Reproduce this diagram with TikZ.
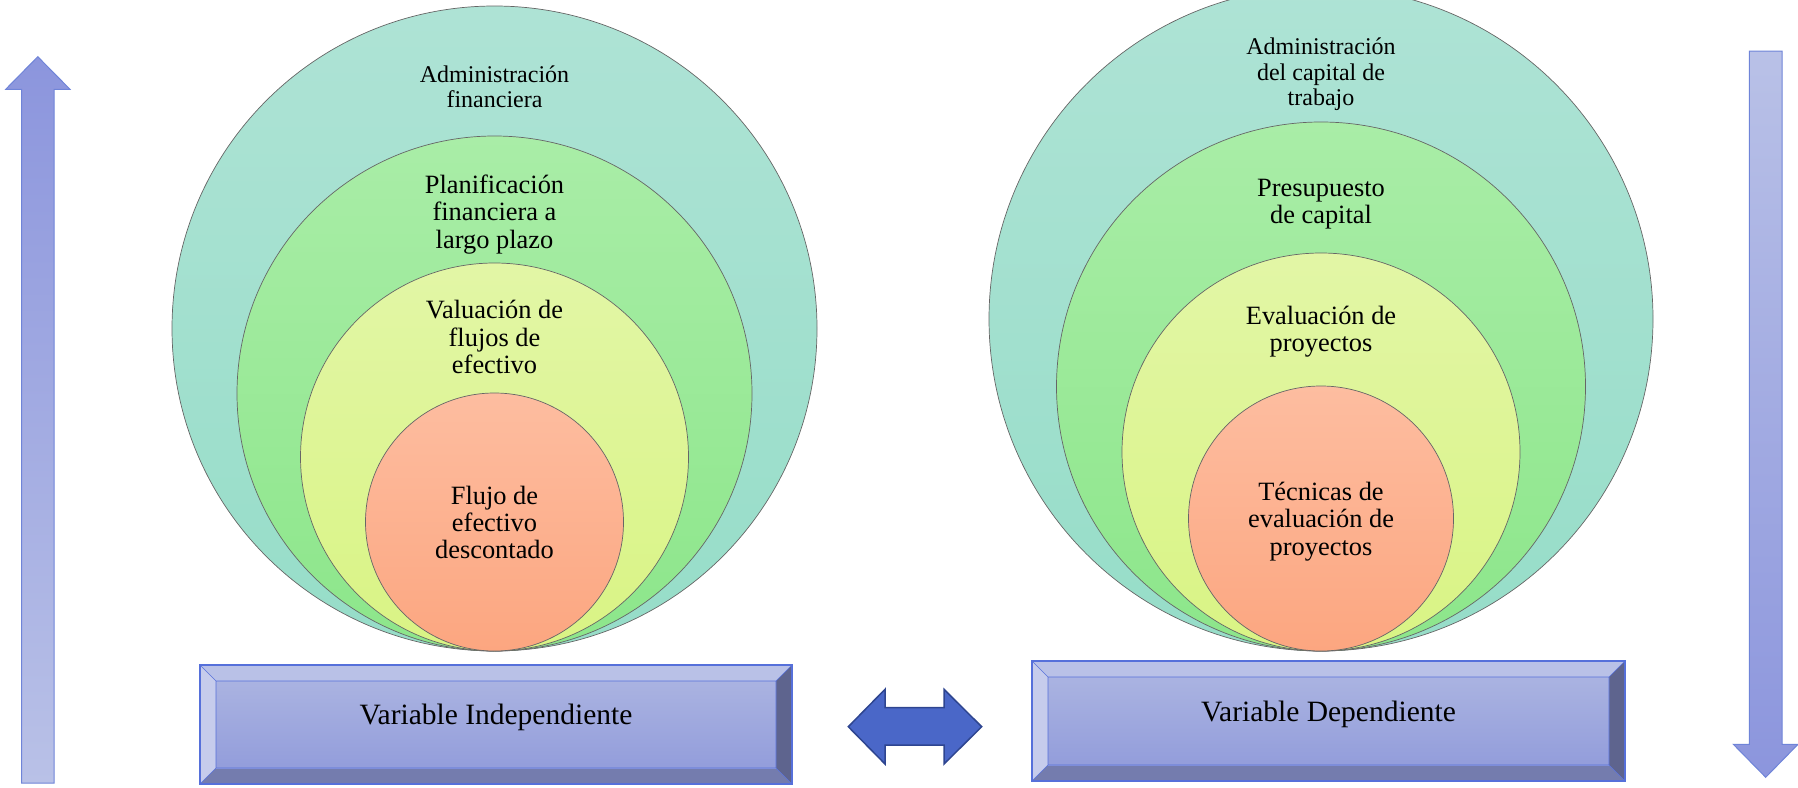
\documentclass[tikz,border=0pt]{standalone}
\usepackage{fontspec}
\setmainfont{Liberation Serif}
\usetikzlibrary{calc}

\definecolor{tealA}{HTML}{AEE3D5}
\definecolor{tealB}{HTML}{96DDC8}
\definecolor{greenA}{HTML}{A9EDA7}
\definecolor{greenB}{HTML}{8CE68A}
\definecolor{limeA}{HTML}{E2F6A6}
\definecolor{limeB}{HTML}{D9F484}
\definecolor{salmonA}{HTML}{FDBDA0}
\definecolor{salmonB}{HTML}{FCA680}
\definecolor{bevTop}{HTML}{B9C1E7}
\definecolor{bevLeft}{HTML}{C6CCEC}
\definecolor{bevRight}{HTML}{5E648E}
\definecolor{bevBottom}{HTML}{747CAE}
\definecolor{faceA}{HTML}{AAB3E1}
\definecolor{faceB}{HTML}{939DDB}
\definecolor{panelEdge}{HTML}{5670DA}
\definecolor{arrowEdge}{HTML}{6F84D8}
\definecolor{dblFill}{HTML}{4A67C8}
\definecolor{dblEdge}{HTML}{2E4590}

% bevelled panel: name, x1, y1, x2, y2 (bevel 16)
\newcommand\bevelpanel[5]{%
  \coordinate (#1-a) at (#2,#3);
  \coordinate (#1-b) at (#4,#3);
  \coordinate (#1-c) at (#4,#5);
  \coordinate (#1-d) at (#2,#5);
  \coordinate (#1-ia) at ($(#1-a)+(16,16)$);
  \coordinate (#1-ib) at ($(#1-b)+(-16,16)$);
  \coordinate (#1-ic) at ($(#1-c)+(-16,-16)$);
  \coordinate (#1-id) at ($(#1-d)+(16,-16)$);
  \fill[bevTop] (#1-a) -- (#1-b) -- (#1-ib) -- (#1-ia) -- cycle;
  \fill[bevLeft] (#1-a) -- (#1-ia) -- (#1-id) -- (#1-d) -- cycle;
  \fill[bevRight] (#1-b) -- (#1-c) -- (#1-ic) -- (#1-ib) -- cycle;
  \fill[bevBottom] (#1-d) -- (#1-c) -- (#1-ic) -- (#1-id) -- cycle;
  \shade[top color=faceA, bottom color=faceB] (#1-ia) rectangle (#1-ic);
  \draw[panelEdge, line width=0.6pt] (#1-ia) rectangle (#1-ic)
    (#1-a) -- (#1-ia) (#1-b) -- (#1-ib) (#1-c) -- (#1-ic) (#1-d) -- (#1-id);
  \draw[panelEdge, line width=1.2pt] (#1-a) rectangle (#1-c);
}

\begin{document}
\begin{tikzpicture}[x=1pt, y=-1pt,
  ring/.style={circle, draw=black!60, line width=0.7pt, inner sep=0pt},
  bandteal/.style={ring, top color=tealA, bottom color=tealB},
  bandgreen/.style={ring, top color=greenA, bottom color=greenB},
  bandlime/.style={ring, top color=limeA, bottom color=limeB},
  bandsalmon/.style={ring, top color=salmonA, bottom color=salmonB},
  smalltxt/.style={align=center, inner sep=0pt, font=\fontsize{24}{25.3}\selectfont},
  bigtxt/.style={align=center, inner sep=0pt, font=\fontsize{26.4}{27.3}\selectfont},
  boxtxt/.style={anchor=base, inner sep=0pt, font=\fontsize{29.5}{34}\selectfont},
  vertarrow/.style={draw=arrowEdge, line width=1pt},
]
\useasboundingbox (0,0) rectangle (1798,787);

% left nest of circles
\node[bandteal,   minimum size=645] (lA) at (494.5,328.5) {};
\node[bandgreen,  minimum size=515] (lB) at (494.5,393.5) {};
\node[bandlime,   minimum size=388] (lC) at (494.5,457) {};
\node[bandsalmon, minimum size=258] (lD) at (494.5,522) {};

\node[smalltxt] (lAt) at (494.5,86.5) {Administración\\financiera};
\node[bigtxt]   (lBt) at (494.5,214.5) {Planificación\\financiera a\\largo plazo};
\node[bigtxt]   (lCt) at (494.5,337) {Valuación de\\flujos de\\efectivo};
\node[bigtxt]   (lDt) at (494.5,522.5) {Flujo de\\efectivo\\descontado};

% right nest of circles
\node[bandteal,   minimum size=664] (rA) at (1321,319) {};
\node[bandgreen,  minimum size=529] (rB) at (1321,386.5) {};
\node[bandlime,   minimum size=398] (rC) at (1321,452) {};
\node[bandsalmon, minimum size=265] (rD) at (1321,518.5) {};

\node[smalltxt] (rAt) at (1321,74.5) {Administración\\del capital de\\trabajo};
\node[bigtxt]   (rBt) at (1321,204) {Presupuesto\\de capital};
\node[bigtxt]   (rCt) at (1321,332) {Evaluación de\\proyectos};
\node[bigtxt]   (rDt) at (1321,521.5) {Técnicas de\\evaluación de\\proyectos};

% bevelled panels
\bevelpanel{pL}{200}{665}{792}{784}
\bevelpanel{pR}{1032}{661}{1625}{781}
\node[boxtxt] (pLt) at (496,724) {Variable Independiente};
\node[boxtxt] (pRt) at (1328.5,721) {Variable Dependiente};

% double arrow between the panels
\draw[fill=dblFill, draw=dblEdge, line width=1.5pt, line join=miter]
  (848.3,726.7) -- (885,689.3) -- (885,707.7) -- (944,707.7) -- (944,689.3)
  -- (981.7,726.7) -- (944,764) -- (944,745) -- (885,745) -- (885,764) -- cycle;

% upward arrow on the left
\draw[vertarrow, top color=faceB!95!blue, bottom color=bevTop]
  (37.8,56.7) -- (70,89.3) -- (54,89.3) -- (54,783) -- (21.7,783)
  -- (21.7,89.3) -- (5.7,89.3) -- cycle;

% downward arrow on the right
\draw[vertarrow, top color=bevTop, bottom color=faceB!95!blue]
  (1749.3,51) -- (1782,51) -- (1782,744.3) -- (1798,744.3) -- (1765.7,777.3)
  -- (1733.3,744.3) -- (1749.3,744.3) -- cycle;
\end{tikzpicture}
\end{document}
